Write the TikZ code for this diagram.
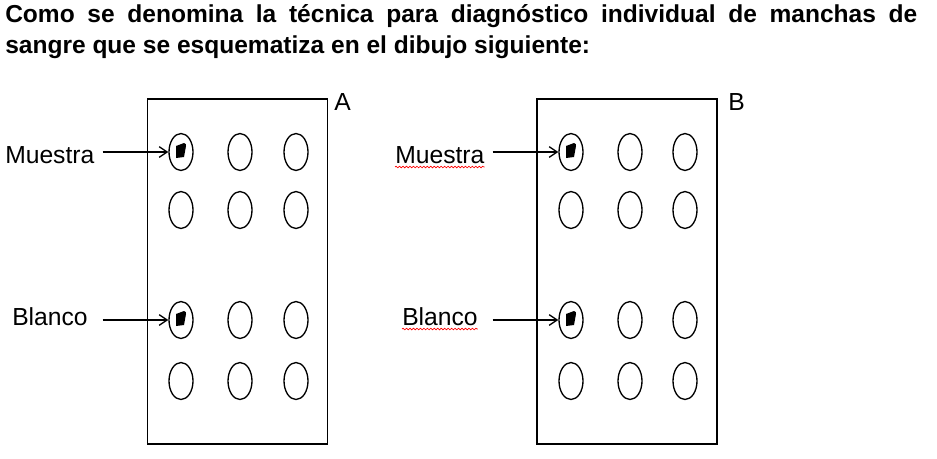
\documentclass[tikz,border=0pt]{standalone}
\usepackage{fontspec}
\setmainfont{Liberation Sans}
\usetikzlibrary{arrows.meta,decorations.pathmorphing,shapes.geometric}
\tikzset{
  plate/.style={draw, line width=1.4pt},
  well/.style={draw, ellipse, line width=1pt, minimum width=24*0.75pt, minimum height=37*0.75pt, inner sep=0pt},
  lbl/.style={anchor=base west, inner sep=0pt, font=\fontsize{18.5}{22}\selectfont},
  ttl/.style={anchor=base west, inner sep=0pt, font=\bfseries\fontsize{18.4}{22}\selectfont},
  ptr/.style={line width=1pt, -{Straight Barb[length=6pt,width=8pt]}},
  spot/.style={fill=black},
  spell/.style={draw=red, line width=0.5pt, decorate, decoration={snake, amplitude=0.6pt, segment length=2.6pt}},
}
\begin{document}
\begin{tikzpicture}[x=0.75pt,y=-0.75pt]
\useasboundingbox (0,0) rectangle (937,458);
% title
\node[ttl] (t1) at (5,22)
  {\makebox[684pt][s]{Como se denomina la técnica para diagnóstico individual de manchas de}};
\node[ttl] (t2) at (5,53)
  {sangre que se esquematiza en el dibujo siguiente:};
% plates
\node[plate, minimum width=180*0.75pt, minimum height=345*0.75pt, inner sep=0pt] (pA) at (237.5,271.5) {};
\node[plate, minimum width=180*0.75pt, minimum height=345*0.75pt, inner sep=0pt] (pB) at (627,271.5) {};
\node[lbl] (A) at (334,110) {A};
\node[lbl] (B) at (728,110) {B};
% wells
\foreach \r/\y in {1/152,2/210,3/320,4/381}{
  \node[well] (a\r1) at (181,\y) {};
  \node[well] (a\r2) at (240,\y) {};
  \node[well] (a\r3) at (296,\y) {};
  \node[well] (b\r1) at (571,\y) {};
  \node[well] (b\r2) at (630,\y) {};
  \node[well] (b\r3) at (685,\y) {};
}
% spots
\foreach \n in {a11,a31,b11,b31}{
  \fill[spot] (\n.center) ++(-5,-6) -- ++(8,-3) .. controls ++(2,0) and ++(0,-1) .. ++(2,3) -- ++(-2,11) -- ++(-8,1) -- cycle;
}
% labels
\node[lbl] (mA) at (5,163) {Muestra};
\node[lbl] (bA) at (12,325) {Blanco};
\node[lbl] (mB) at (395,163) {Muestra};
\node[lbl] (bB) at (402,325) {Blanco};
% arrows
\draw[ptr] ([xshift=6pt]mA.east |- a11.west) -- (a11.west);
\draw[ptr] ([xshift=11pt]bA.east |- a31.west) -- (a31.west);
\draw[ptr] ([xshift=6pt]mB.east |- b11.west) -- (b11.west);
\draw[ptr] ([xshift=11pt]bB.east |- b31.west) -- (b31.west);
% spelling marks
\draw[spell] ([yshift=-3pt]mB.base west) -- ([yshift=-3pt]mB.base east);
\draw[spell] ([yshift=-3pt]bB.base west) -- ([yshift=-3pt]bB.base east);
\end{tikzpicture}
\end{document}
